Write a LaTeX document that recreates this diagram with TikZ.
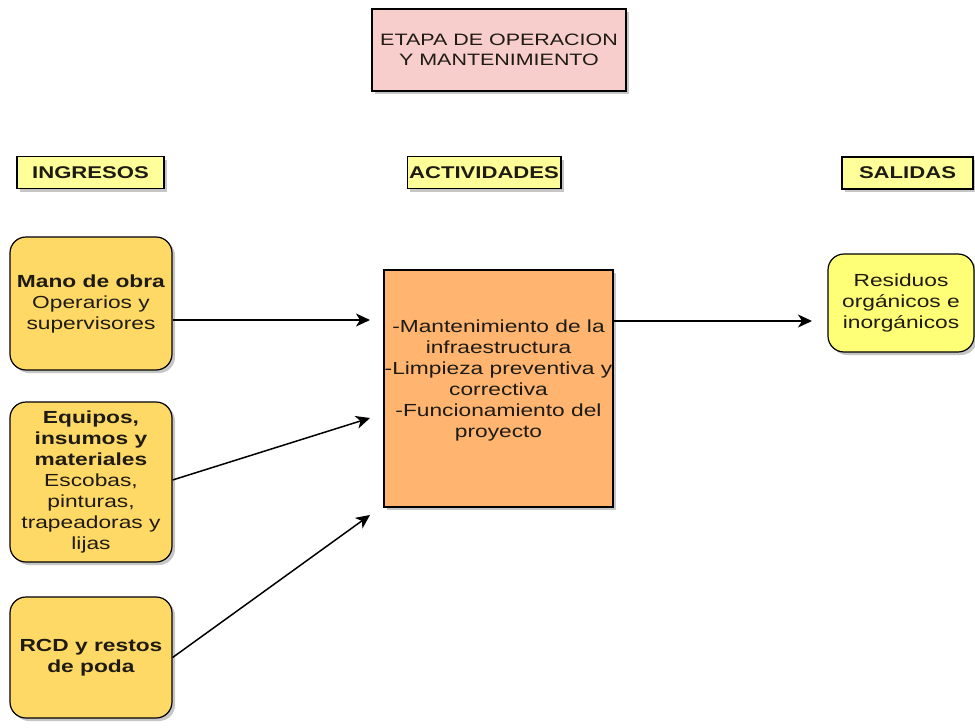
\documentclass[tikz,border=0pt]{standalone}
\usepackage{fontspec}
\setmainfont[FakeStretch=1.3]{Liberation Sans}
\usetikzlibrary{arrows.meta,shadows}
\definecolor{titlefill}{HTML}{F8CECC}
\definecolor{headfill}{HTML}{FFFF99}
\definecolor{infill}{HTML}{FFD966}
\definecolor{actfill}{HTML}{FFB570}
\definecolor{outfill}{HTML}{FFFF77}
\definecolor{txt}{HTML}{1E1A14}
\tikzset{
  base/.style={draw=black, line width=1.2pt, text=txt, align=center, inner sep=2pt,
    font=\fontsize{17.5}{21}\selectfont,
    drop shadow={shadow xshift=3pt, shadow yshift=-3pt, fill=gray, opacity=0.45}},
  titlebox/.style={base, fill=titlefill, minimum width=254pt, minimum height=82pt,
    font=\fontsize{16.5}{20}\selectfont},
  headbox/.style={base, fill=headfill, minimum height=32pt, font=\bfseries\fontsize{17}{21}\selectfont},
  inbox/.style={base, fill=infill, rounded corners=16pt, minimum width=162pt},
  actbox/.style={base, fill=actfill, minimum width=229pt, minimum height=237pt},
  outbox/.style={base, fill=outfill, rounded corners=16pt, minimum width=146pt, minimum height=98pt},
  plain/.style={text=txt, align=center, font=\fontsize{17.5}{21}\selectfont},
  conn/.style={draw=black, line width=1.5pt, -{Stealth[length=14pt,width=13pt,inset=4pt]}}
}
\begin{document}
\begin{tikzpicture}[x=1pt,y=-1pt]
\useasboundingbox (0,0) rectangle (975,728);
% title
\node[titlebox] (title) at (499,50) {ETAPA DE OPERACION\\Y MANTENIMIENTO};
% headers
\node[headbox, minimum width=147pt] (ing) at (90.5,172.5) {INGRESOS};
\node[headbox, minimum width=152pt] (actv) at (484,172.5) {ACTIVIDADES};
\node[headbox, minimum width=131pt] (sal) at (907.5,173) {SALIDAS};
% inputs
\node[inbox, minimum height=133pt] (mano) at (91,303.5)
  {\textbf{Mano de obra}\\Operarios y\\supervisores};
\node[inbox, minimum height=160pt] (equipos) at (91,482)
  {\textbf{Equipos,}\\\textbf{insumos y}\\\textbf{materiales}\\Escobas,\\pinturas,\\trapeadoras y\\lijas};
\node[inbox, minimum height=121pt] (rcd) at (91,657.5)
  {\textbf{RCD y restos}\\\textbf{de poda}};
% activities
\node[actbox] (act) at (498.5,388.5) {};
\node[plain] (acttext) at (498.5,380)
  {-Mantenimiento de la\\infraestructura\\-Limpieza preventiva y\\correctiva\\-Funcionamiento del\\proyecto};
% output
\node[outbox] (res) at (901,303) {Residuos\\orgánicos e\\inorgánicos};
% arrow end points
\coordinate (a1) at (370,320);
\coordinate (a2) at (370,418);
\coordinate (a3) at (370,515);
\coordinate (a4) at (812,321);
\draw[conn] (mano.east |- a1) -- (a1);
\draw[conn] ([yshift=2pt]equipos.east) -- (a2);
\draw[conn] (rcd.east) -- (a3);
\draw[conn] (act.east |- a4) -- (a4);
\end{tikzpicture}
\end{document}
